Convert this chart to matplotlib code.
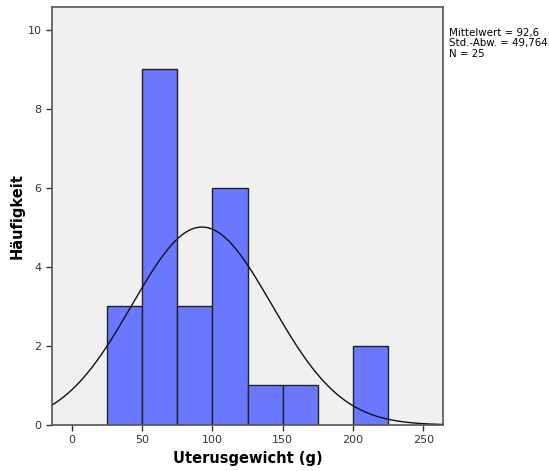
import numpy as np
import matplotlib.pyplot as plt

# Histogram counts for uterus weight, bin width 25 g
bin_left = [25, 50, 75, 100, 125, 150, 200]
counts = [3, 9, 3, 6, 1, 1, 2]
bin_width = 25
mean = 92.6
sd = 49.764
n = 25

fig = plt.figure(figsize=(5.49, 4.71), dpi=100)
ax = fig.add_axes([52 / 549, 1 - 425 / 471, (443 - 52) / 549, (425 - 7) / 471])
ax.set_facecolor('#f0f0f0')

ax.bar(bin_left, counts, width=bin_width, align='edge',
       color='#6a78ff', edgecolor='#222222', linewidth=1.0)

# normal curve scaled to the histogram
xs = np.linspace(-14, 264, 400)
ys = n * bin_width / (sd * np.sqrt(2 * np.pi)) * np.exp(-0.5 * ((xs - mean) / sd) ** 2)
ax.plot(xs, ys, color='#111111', linewidth=1.0)

ax.set_xlim(-14, 264)
ax.set_ylim(0, 10.58)
ax.set_xticks([0, 50, 100, 150, 200, 250])
ax.set_yticks([0, 2, 4, 6, 8, 10])
ax.tick_params(labelsize=8, colors='#333333', length=4, width=1)
for s in ax.spines.values():
    s.set_color('#555555')
    s.set_linewidth(1.2)

ax.set_xlabel('Uterusgewicht (g)', fontsize=10.5, fontweight='bold')
ax.set_ylabel('Häufigkeit', fontsize=10.5, fontweight='bold')
ax.xaxis.set_label_coords(0.5, -0.062)
ax.yaxis.set_label_coords(-0.07, 0.5)

fig.text(449 / 549, 1 - 28 / 471,
         'Mittelwert = 92,6\nStd.-Abw. = 49,764\nN = 25',
         fontsize=7.4, va='top', ha='left', linespacing=1.05)

fig.savefig('out.png', dpi=100)
